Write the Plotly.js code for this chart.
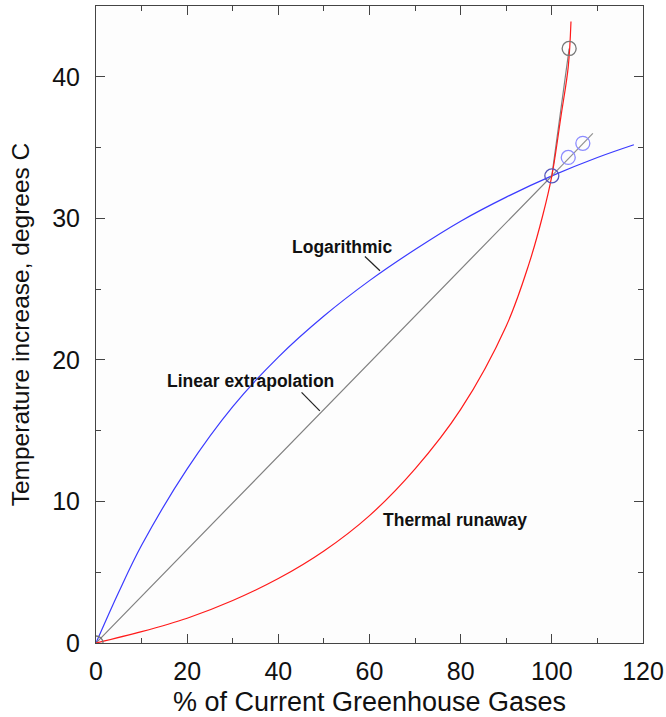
<!DOCTYPE html>
<html>
<head>
<meta charset="utf-8">
<script src="https://cdn.plot.ly/plotly-3.0.1.min.js"></script>
<style>html,body{margin:0;padding:0;background:#fff;}#chart{width:666px;height:717px;}</style>
</head>
<body>
<div id="chart"></div>
<script>
// Logarithmic response (blue)
var logX = [0, 5, 10, 20, 30, 40, 50, 60, 70, 80, 90, 100, 110, 118];
var logY = [0, 3.6, 6.9, 12.3, 16.7, 20.2, 23.1, 25.6, 27.8, 29.8, 31.5, 33, 34.3, 35.2];
// Thermal runaway (red)
var runX = [0, 10, 20, 30, 40, 50, 60, 70, 80, 90, 95, 98, 100, 102, 103.6, 104.2];
var runY = [0, 0.8, 1.75, 3.0, 4.55, 6.5, 9.0, 12.3, 16.5, 22.4, 26.8, 30.2, 33, 37.2, 40.7, 43.9];
// Linear extrapolation (gray)
var linX = [0, 100, 103.8];
var linY = [0, 33, 42];
var branchX = [100, 109];
var branchY = [33, 36];
// Circle markers
var grayPtX = [0, 103.8];
var grayPtY = [0, 42];
var bluePtX = [103.6, 106.8];
var bluePtY = [34.3, 35.3];
var nowPtX = [100];
var nowPtY = [33];
// Labels
var labelText = ["Logarithmic", "Linear extrapolation", "Thermal runaway"];
var labelX = [54.0, 34.0, 78.8];
var labelY = [28.0, 18.5, 8.7];
// Leader lines [x0, y0, x1, y1]
var leaderLog = [59.0, 27.3, 62.3, 26.3];
var leaderLin = [45.1, 17.7, 49.1, 16.4];

var traces = [
  {x: logX, y: logY, mode: 'lines', line: {color: '#3a3aff', width: 1.2, shape: 'spline', smoothing: 1}, hoverinfo: 'skip'},
  {x: linX, y: linY, mode: 'lines', line: {color: '#808080', width: 1.2}, hoverinfo: 'skip'},
  {x: branchX, y: branchY, mode: 'lines', line: {color: '#909090', width: 1.2}, hoverinfo: 'skip'},
  {x: runX, y: runY, mode: 'lines', line: {color: '#ff1a1a', width: 1.2, shape: 'spline', smoothing: 1}, hoverinfo: 'skip'},
  {x: grayPtX, y: grayPtY, mode: 'markers', marker: {symbol: 'circle-open', size: 14, color: '#777777', line: {width: 1.3}}, hoverinfo: 'skip'},
  {x: bluePtX, y: bluePtY, mode: 'markers', marker: {symbol: 'circle-open', size: 14, color: '#8c8cff', line: {width: 1.3}}, hoverinfo: 'skip'},
  {x: nowPtX, y: nowPtY, mode: 'markers', marker: {symbol: 'circle-open', size: 14, color: '#5555bb', line: {width: 1.3}}, hoverinfo: 'skip'}
];

var annotations = labelText.map(function (t, i) {
  return {x: labelX[i], y: labelY[i], xref: 'x', yref: 'y', text: '<b>' + t + '</b>', showarrow: false,
    font: {family: 'Liberation Sans, Arial, sans-serif', size: 17.5, color: '#111'}};
});

var shapes = [leaderLog, leaderLin].map(function (l) {
  return {type: 'line', xref: 'x', yref: 'y', x0: l[0], y0: l[1], x1: l[2], y1: l[3], line: {color: '#222', width: 1.2}};
});

var axisFont = {family: 'Liberation Sans, Arial, sans-serif', size: 25, color: '#111'};

var layout = {
  width: 666, height: 717,
  margin: {l: 96, r: 23, t: 6, b: 74},
  paper_bgcolor: '#ffffff',
  plot_bgcolor: '#fdfdfd',
  showlegend: false,
  font: axisFont,
  xaxis: {
    range: [0, 120], tick0: 0, dtick: 20, ticks: 'inside', ticklen: 9, tickcolor: '#444',
    showline: true, linecolor: '#444', linewidth: 1, mirror: 'ticks', showgrid: false, zeroline: false,
    tickfont: axisFont, ticklabelstandoff: 6,
    minor: {dtick: 10, ticks: 'inside', ticklen: 5, tickcolor: '#444', showgrid: false},
    title: {text: '% of Current Greenhouse Gases', font: {family: 'Liberation Sans, Arial, sans-serif', size: 27, color: '#111'}, standoff: 11}
  },
  yaxis: {
    range: [0, 45], tick0: 0, dtick: 10, ticks: 'inside', ticklen: 9, tickcolor: '#444',
    showline: true, linecolor: '#444', linewidth: 1, mirror: 'ticks', showgrid: false, zeroline: false,
    tickfont: axisFont, ticklabelstandoff: 10,
    minor: {dtick: 5, ticks: 'inside', ticklen: 5, tickcolor: '#444', showgrid: false},
    title: {text: 'Temperature increase, degrees C', font: {family: 'Liberation Sans, Arial, sans-serif', size: 24.5, color: '#111'}, standoff: 15}
  },
  annotations: annotations,
  shapes: shapes
};

Plotly.newPlot('chart', traces, layout, {staticPlot: true, displayModeBar: false});
</script>
</body>
</html>
